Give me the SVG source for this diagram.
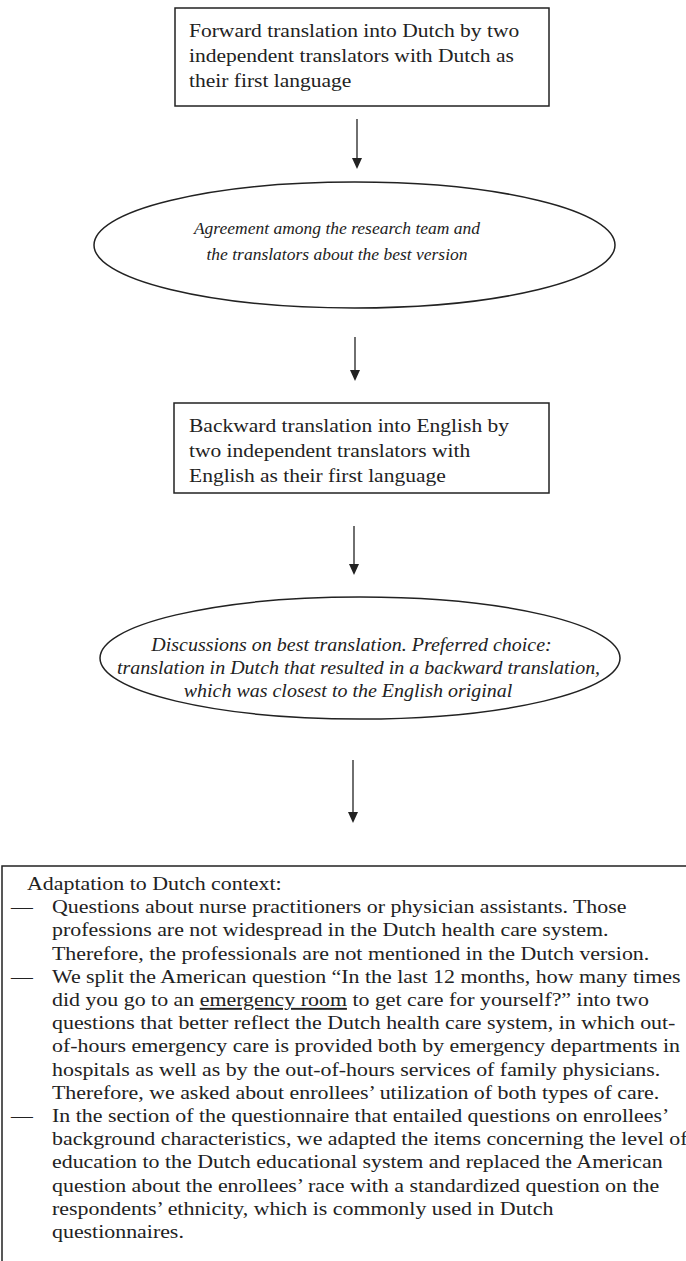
<svg xmlns="http://www.w3.org/2000/svg" width="686" height="1261" viewBox="0 0 686 1261">
  <style>
    .shape { fill: #ffffff; stroke: #222222; stroke-width: 1.5; }
    .t { font-family: "Liberation Serif", "Times New Roman", serif; fill: #222222; }
    .b { font-size: 21.5px; }
    .e1 { font-size: 17.5px; font-style: italic; }
    .e2 { font-size: 20px; font-style: italic; }
    .c { text-anchor: middle; }
    .p { font-size: 21.9px; }
    .conn { stroke: #222222; stroke-width: 1.3; fill: none; }
    .u { text-decoration: underline; }
  </style>
  <rect width="686" height="1261" fill="#ffffff"/>

  <g id="connectors">
    <line class="conn" x1="357" y1="119" x2="357" y2="160"/>
    <path d="M352,158 L362,158 L357,169 Z" fill="#222222"/>
    <line class="conn" x1="355" y1="337" x2="355" y2="372"/>
    <path d="M350,370 L360,370 L355,381 Z" fill="#222222"/>
    <line class="conn" x1="354" y1="526" x2="354" y2="566"/>
    <path d="M349,564 L359,564 L354,575 Z" fill="#222222"/>
    <line class="conn" x1="353" y1="760" x2="353" y2="814"/>
    <path d="M348,812 L358,812 L353,823 Z" fill="#222222"/>
  </g>

  <g id="node-forward">
    <rect class="shape" x="175" y="8" width="374" height="98"/>
    <text class="t b" transform="translate(189,37) scale(1,0.88)">Forward translation into Dutch by two</text>
    <text class="t b" transform="translate(189,62) scale(1,0.88)">independent translators with Dutch as</text>
    <text class="t b" transform="translate(189,87) scale(1,0.88)">their first language</text>
  </g>

  <g id="node-agreement">
    <ellipse class="shape" cx="354.5" cy="245" rx="260.5" ry="63"/>
    <text class="t e1 c" transform="translate(337,234)">Agreement among the research team and</text>
    <text class="t e1 c" transform="translate(337,260)">the translators about the best version</text>
  </g>

  <g id="node-backward">
    <rect class="shape" x="174" y="403" width="375" height="90"/>
    <text class="t b" transform="translate(189,432) scale(1,0.88)">Backward translation into English by</text>
    <text class="t b" transform="translate(189,457) scale(1,0.88)">two independent translators with</text>
    <text class="t b" transform="translate(189,482) scale(1,0.88)">English as their first language</text>
  </g>

  <g id="node-discussions">
    <ellipse class="shape" cx="360" cy="658" rx="260" ry="61"/>
    <text class="t e2 c" transform="translate(351.5,651) scale(1,0.9)">Discussions on best translation. Preferred choice:</text>
    <text class="t e2 c" transform="translate(358.5,674) scale(1,0.9)">translation in Dutch that resulted in a backward translation,</text>
    <text class="t e2 c" transform="translate(348,697) scale(1,0.9)">which was closest to the English original</text>
  </g>

  <g id="node-adaptation">
    <rect class="shape" x="2" y="866" width="720" height="420"/>
    <text class="t p" transform="translate(27,890) scale(1,0.88)">Adaptation to Dutch context:</text>
    <text class="t p" transform="translate(11,913.2) scale(1,0.88)">—</text>
    <text class="t p" transform="translate(52,913.2) scale(1,0.88)">Questions about nurse practitioners or physician assistants. Those</text>
    <text class="t p" transform="translate(52,936.4) scale(1,0.88)">professions are not widespread in the Dutch health care system.</text>
    <text class="t p" transform="translate(52,959.6) scale(1,0.88)">Therefore, the professionals are not mentioned in the Dutch version.</text>
    <text class="t p" transform="translate(11,982.8) scale(1,0.88)">—</text>
    <text class="t p" transform="translate(52,982.8) scale(1,0.88)">We split the American question “In the last 12 months, how many times</text>
    <text class="t p" transform="translate(52,1006) scale(1,0.88)">did you go to an <tspan class="u">emergency room</tspan> to get care for yourself?” into two</text>
    <text class="t p" transform="translate(52,1029.2) scale(1,0.88)">questions that better reflect the Dutch health care system, in which out-</text>
    <text class="t p" transform="translate(52,1052.4) scale(1,0.88)">of-hours emergency care is provided both by emergency departments in</text>
    <text class="t p" transform="translate(52,1075.6) scale(1,0.88)">hospitals as well as by the out-of-hours services of family physicians.</text>
    <text class="t p" transform="translate(52,1098.8) scale(1,0.88)">Therefore, we asked about enrollees’ utilization of both types of care.</text>
    <text class="t p" transform="translate(11,1122) scale(1,0.88)">—</text>
    <text class="t p" transform="translate(52,1122) scale(1,0.88)">In the section of the questionnaire that entailed questions on enrollees’</text>
    <text class="t p" transform="translate(52,1145.2) scale(1,0.88)">background characteristics, we adapted the items concerning the level of</text>
    <text class="t p" transform="translate(52,1168.4) scale(1,0.88)">education to the Dutch educational system and replaced the American</text>
    <text class="t p" transform="translate(52,1191.6) scale(1,0.88)">question about the enrollees’ race with a standardized question on the</text>
    <text class="t p" transform="translate(52,1214.8) scale(1,0.88)">respondents’ ethnicity, which is commonly used in Dutch</text>
    <text class="t p" transform="translate(52,1238) scale(1,0.88)">questionnaires.</text>
  </g>
</svg>
